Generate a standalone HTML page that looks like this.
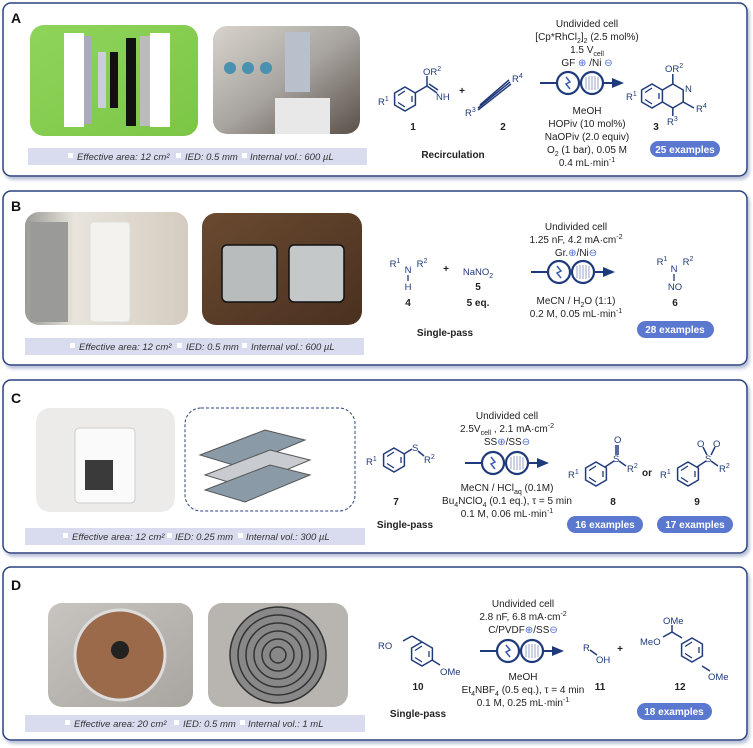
<!DOCTYPE html>
<html><head><meta charset="utf-8"><style>
html,body{margin:0;padding:0;background:#fff;}
svg{display:block;font-family:"Liberation Sans",Arial,sans-serif;}
.t{font-size:10px;fill:#222;text-anchor:middle;}
.b{font-size:10px;font-weight:bold;fill:#222;text-anchor:middle;}
.m{font-size:9.5px;fill:#1f3a7a;}
.cap{font-size:9.5px;font-style:italic;fill:#333;}
.badge{font-size:10px;font-weight:bold;fill:#fff;text-anchor:middle;}
.lab{font-size:14px;font-weight:bold;fill:#111;}
</style></head><body>
<svg width="753" height="748" viewBox="0 0 753 748" xmlns="http://www.w3.org/2000/svg">
<defs>
<g id="bz"><polygon points="0,-12 10.4,-6 10.4,6 0,12 -10.4,6 -10.4,-6" fill="none" stroke="#1f3a7a" stroke-width="1.5"/><line x1="-7" y1="-3.5" x2="0" y2="-8" stroke="#1f3a7a" stroke-width="1.3"/><line x1="7" y1="-3" x2="7" y2="3" stroke="#1f3a7a" stroke-width="1.3"/><line x1="0" y1="8" x2="-7" y2="3.5" stroke="#1f3a7a" stroke-width="1.3"/></g>
<g id="cell"><line x1="-40" y1="0" x2="-24" y2="0" stroke="#1f3a7a" stroke-width="2"/><circle cx="-12" cy="0" r="11" fill="#fff" stroke="#1f3a7a" stroke-width="2.2"/><path d="M-14,-6 L-10,-1 L-14,1 L-10,6" stroke="#3a5ab0" fill="none" stroke-width="1.5"/><circle cx="12" cy="0" r="11" fill="#fff" stroke="#1f3a7a" stroke-width="2.2"/><g stroke="#9aa6c8" stroke-width="1"><line x1="6" y1="-6" x2="6" y2="6"/><line x1="9" y1="-7" x2="9" y2="7"/><line x1="12" y1="-7" x2="12" y2="7"/><line x1="15" y1="-7" x2="15" y2="7"/><line x1="18" y1="-6" x2="18" y2="6"/></g><line x1="23" y1="0" x2="34" y2="0" stroke="#1f3a7a" stroke-width="2"/><polygon points="32,-5 44,0 32,5" fill="#1f3a7a"/></g>
<filter id="sh"><feDropShadow dx="2" dy="3" stdDeviation="1.5" flood-color="#b8c0d8"/></filter>
<linearGradient id="gA" x1="0" y1="0" x2="1" y2="1"><stop offset="0" stop-color="#8fd45a"/><stop offset="1" stop-color="#7cc646"/></linearGradient>
<linearGradient id="gA2" x1="0" y1="0" x2="1" y2="1"><stop offset="0" stop-color="#d8d4cc"/><stop offset="0.5" stop-color="#a8a4a0"/><stop offset="1" stop-color="#5a5048"/></linearGradient>
<linearGradient id="gB1" x1="0" y1="0" x2="1" y2="0"><stop offset="0" stop-color="#9a9a96"/><stop offset="0.3" stop-color="#e8e4dc"/><stop offset="1" stop-color="#d4ccc0"/></linearGradient>
<linearGradient id="gB2" x1="0" y1="0" x2="1" y2="1"><stop offset="0" stop-color="#6a4a30"/><stop offset="1" stop-color="#4a3020"/></linearGradient>
<linearGradient id="gD1" x1="0" y1="0" x2="1" y2="1"><stop offset="0" stop-color="#c8c4c0"/><stop offset="1" stop-color="#a8a4a0"/></linearGradient>
</defs>

<g fill="#fff" stroke="#2b3f7f" stroke-width="1.5" filter="url(#sh)">
<rect x="3" y="3" width="744" height="173" rx="8"/>
<rect x="3" y="191" width="744" height="174" rx="8"/>
<rect x="3" y="380" width="744" height="173" rx="8"/>
<rect x="3" y="567" width="744" height="173" rx="8"/>
</g>
<text x="11" y="23" class="lab">A</text>
<text x="11" y="211" class="lab">B</text>
<text x="11" y="403" class="lab">C</text>
<text x="11" y="590" class="lab">D</text>

<rect x="30" y="25" width="168" height="111" rx="14" fill="url(#gA)"/>
<rect x="64" y="33" width="20" height="94" fill="#fff"/><rect x="84" y="36" width="8" height="88" fill="#aab"/>
<rect x="98" y="52" width="8" height="56" fill="#ccd"/><rect x="110" y="52" width="8" height="56" fill="#111"/>
<rect x="126" y="38" width="10" height="88" fill="#111"/><rect x="140" y="36" width="10" height="90" fill="#bbb"/><rect x="150" y="33" width="20" height="94" fill="#fff"/>
<rect x="213" y="26" width="147" height="108" rx="14" fill="url(#gA2)"/>
<rect x="285" y="32" width="25" height="60" fill="#b8c0cc"/><rect x="275" y="98" width="55" height="36" fill="#e8e8e8"/>
<circle cx="230" cy="68" r="6" fill="#4a90b0"/><circle cx="248" cy="68" r="6" fill="#4a90b0"/><circle cx="266" cy="68" r="6" fill="#4a90b0"/>
<rect x="28" y="148" width="339" height="17" fill="#d9dcef"/>
<g class="cap"><rect x="68" y="153" width="5" height="5" fill="#fff"/><text x="77" y="160">Effective area: 12 cm²</text><rect x="176" y="153" width="5" height="5" fill="#fff"/><text x="185" y="160">IED: 0.5 mm</text><rect x="242" y="153" width="5" height="5" fill="#fff"/><text x="250" y="160">Internal vol.: 600 µL</text></g>

<g class="t">
<text x="587" y="27">Undivided cell</text>
<text x="587" y="40">[Cp*RhCl<tspan font-size="7" dy="3">2</tspan><tspan dy="-3">]</tspan><tspan font-size="7" dy="3">2</tspan><tspan dy="-3"> (2.5 mol%)</tspan></text>
<text x="587" y="53">1.5 V<tspan font-size="7" dy="3">cell</tspan></text>
<text x="587" y="66">GF <tspan fill="#4a6ad0">⊕</tspan> /Ni <tspan fill="#4a6ad0">⊖</tspan></text>
<text x="587" y="114">MeOH</text>
<text x="587" y="127">HOPiv (10 mol%)</text>
<text x="587" y="140">NaOPiv (2.0 equiv)</text>
<text x="587" y="153">O<tspan font-size="7" dy="3">2</tspan><tspan dy="-3"> (1 bar), 0.05 M</tspan></text>
<text x="587" y="166">0.4 mL·min<tspan font-size="7" dy="-4">-1</tspan></text>
</g>
<use href="#cell" x="580" y="83"/>
<use href="#bz" x="405" y="99"/>
<g stroke="#1f3a7a" stroke-width="1.5" fill="none"><line x1="415" y1="93" x2="427" y2="86"/><line x1="427" y1="86" x2="427" y2="76"/><line x1="427" y1="86" x2="437" y2="93"/><line x1="429" y1="84" x2="438" y2="90"/>
<line x1="478" y1="108" x2="510" y2="82"/><line x1="480" y1="105" x2="509" y2="80"/><line x1="478" y1="110" x2="511" y2="84"/></g>
<g class="m"><text x="378" y="105">R<tspan font-size="7" dy="-4">1</tspan></text><text x="423" y="75">OR<tspan font-size="7" dy="-4">2</tspan></text><text x="436" y="100">NH</text><text x="465" y="116">R<tspan font-size="7" dy="-4">3</tspan></text><text x="512" y="82">R<tspan font-size="7" dy="-4">4</tspan></text></g>
<text x="462" y="94" class="b" font-size="9">+</text>
<text x="413" y="130" class="b" font-size="9">1</text><text x="503" y="130" class="b" font-size="9">2</text><text x="656" y="130" class="b" font-size="9">3</text>
<text x="453" y="158" class="b">Recirculation</text>
<use href="#bz" x="652" y="96"/>
<g stroke="#1f3a7a" stroke-width="1.5" fill="none"><polyline points="662.4,90 672.8,84 683.2,90 683.2,102 672.8,108 662.4,102"/><line x1="672.8" y1="84" x2="672.8" y2="74"/><line x1="683.2" y1="102" x2="694" y2="108"/><line x1="672.8" y1="108" x2="672.8" y2="116"/></g>
<g class="m"><text x="665" y="72">OR<tspan font-size="7" dy="-4">2</tspan></text><text x="685" y="92">N</text><text x="696" y="112">R<tspan font-size="7" dy="-4">4</tspan></text><text x="667" y="125">R<tspan font-size="7" dy="-4">3</tspan></text><text x="626" y="100">R<tspan font-size="7" dy="-4">1</tspan></text></g>
<rect x="650" y="141" width="70" height="16" rx="8" fill="#5b78d0"/><text x="685" y="153" class="badge">25 examples</text>

<rect x="25" y="212" width="163" height="113" rx="14" fill="url(#gB1)"/>
<rect x="30" y="222" width="38" height="100" fill="#9a9a98"/>
<rect x="90" y="222" width="40" height="100" rx="4" fill="#f4f2ee" stroke="#ddd"/>
<rect x="202" y="213" width="160" height="112" rx="14" fill="url(#gB2)"/>
<rect x="222" y="245" width="55" height="57" rx="5" fill="#b8bcbc" stroke="#111" stroke-width="1.5"/>
<rect x="289" y="245" width="55" height="57" rx="5" fill="#c4c8c8" stroke="#111" stroke-width="1.5"/>
<rect x="25" y="338" width="339" height="17" fill="#d9dcef"/>
<g class="cap"><rect x="70" y="343" width="5" height="5" fill="#fff"/><text x="79" y="350">Effective area: 12 cm²</text><rect x="177" y="343" width="5" height="5" fill="#fff"/><text x="186" y="350">IED: 0.5 mm</text><rect x="242" y="343" width="5" height="5" fill="#fff"/><text x="251" y="350">Internal vol.: 600 µL</text></g>

<g class="t">
<text x="576" y="230">Undivided cell</text>
<text x="576" y="243">1.25 nF, 4.2 mA·cm<tspan font-size="7" dy="-4">-2</tspan></text>
<text x="576" y="256">Gr.<tspan fill="#4a6ad0">⊕</tspan>/Ni<tspan fill="#4a6ad0">⊖</tspan></text>
<text x="576" y="304">MeCN / H<tspan font-size="7" dy="3">2</tspan><tspan dy="-3">O (1:1)</tspan></text>
<text x="576" y="317">0.2 M, 0.05 mL·min<tspan font-size="7" dy="-4">-1</tspan></text>
</g>
<use href="#cell" x="571" y="272"/>
<g class="m" text-anchor="middle"><text x="395" y="267">R<tspan font-size="7" dy="-4">1</tspan></text><text x="408" y="273">N</text><text x="422" y="267">R<tspan font-size="7" dy="-4">2</tspan></text><text x="408" y="290">H</text>
<text x="478" y="275">NaNO<tspan font-size="7" dy="3">2</tspan></text>
<text x="662" y="265">R<tspan font-size="7" dy="-4">1</tspan></text><text x="674" y="272">N</text><text x="688" y="265">R<tspan font-size="7" dy="-4">2</tspan></text><text x="675" y="290">NO</text></g>
<g stroke="#1f3a7a" stroke-width="1.3"><line x1="408" y1="275" x2="408" y2="281"/><line x1="674" y1="274" x2="674" y2="281"/></g>
<text x="446" y="272" class="b" font-size="9">+</text>
<text x="478" y="290" class="b" font-size="9">5</text><text x="408" y="306" class="b" font-size="9">4</text><text x="478" y="306" class="b">5 eq.</text>
<text x="675" y="306" class="b" font-size="9">6</text>
<text x="445" y="336" class="b">Single-pass</text>
<rect x="637" y="321" width="77" height="17" rx="8.5" fill="#5b78d0"/><text x="675" y="333" class="badge">28 examples</text>

<rect x="36" y="408" width="139" height="104" rx="14" fill="#ecebea"/>
<rect x="75" y="428" width="60" height="75" rx="4" fill="#fafafa" stroke="#ccc"/>
<rect x="85" y="460" width="28" height="30" fill="#3a3a3a"/>
<rect x="185" y="408" width="170" height="103" rx="16" fill="none" stroke="#2b3f7f" stroke-dasharray="3,2"/>
<polygon points="200,455 265,430 305,440 240,467" fill="#8a9aa6" stroke="#555"/>
<polygon points="205,475 270,450 310,460 245,487" fill="#c8ccd0" stroke="#555"/>
<polygon points="205,490 270,465 310,475 245,502" fill="#8a9aa6" stroke="#555"/>
<rect x="25" y="528" width="340" height="17" fill="#d9dcef"/>
<g class="cap"><rect x="63" y="533" width="5" height="5" fill="#fff"/><text x="72" y="540">Effective area: 12 cm²</text><rect x="167" y="533" width="5" height="5" fill="#fff"/><text x="175" y="540">IED: 0.25 mm</text><rect x="238" y="533" width="5" height="5" fill="#fff"/><text x="246" y="540">Internal vol.: 300 µL</text></g>

<g class="t">
<text x="507" y="419">Undivided cell</text>
<text x="507" y="432">2.5V<tspan font-size="7" dy="3">cell</tspan><tspan dy="-3"> , 2.1 mA·cm</tspan><tspan font-size="7" dy="-4">-2</tspan></text>
<text x="507" y="445">SS<tspan fill="#4a6ad0">⊕</tspan>/SS<tspan fill="#4a6ad0">⊖</tspan></text>
<text x="507" y="491">MeCN / HCl<tspan font-size="7" dy="3">aq</tspan><tspan dy="-3"> (0.1M)</tspan></text>
<text x="507" y="504">Bu<tspan font-size="7" dy="3">4</tspan><tspan dy="-3">NClO</tspan><tspan font-size="7" dy="3">4</tspan><tspan dy="-3"> (0.1 eq.), τ = 5 min</tspan></text>
<text x="507" y="517">0.1 M, 0.06 mL·min<tspan font-size="7" dy="-4">-1</tspan></text>
</g>
<use href="#cell" x="505" y="463"/>
<use href="#bz" x="394" y="460"/>
<g stroke="#1f3a7a" stroke-width="1.5" fill="none"><line x1="404" y1="454" x2="412" y2="449"/><line x1="418" y1="451" x2="424" y2="456"/>
<line x1="605" y1="467" x2="614" y2="461"/><line x1="619" y1="461" x2="626" y2="466"/><line x1="616" y1="455" x2="616" y2="445"/><line x1="618" y1="455" x2="618" y2="445"/>
<line x1="697" y1="467" x2="706" y2="461"/><line x1="711" y1="461" x2="718" y2="466"/><line x1="707" y1="455" x2="703" y2="447"/><line x1="711" y1="455" x2="715" y2="447"/></g>
<use href="#bz" x="596" y="474"/><use href="#bz" x="688" y="474"/>
<g class="m"><text x="412" y="451">S</text><text x="424" y="463">R<tspan font-size="7" dy="-4">2</tspan></text><text x="366" y="465">R<tspan font-size="7" dy="-4">1</tspan></text>
<text x="613" y="462">S</text><text x="614" y="443">O</text><text x="627" y="472">R<tspan font-size="7" dy="-4">2</tspan></text><text x="568" y="478">R<tspan font-size="7" dy="-4">1</tspan></text>
<text x="705" y="462">S</text><text x="697" y="447">O</text><text x="713" y="447">O</text><text x="719" y="472">R<tspan font-size="7" dy="-4">2</tspan></text><text x="660" y="478">R<tspan font-size="7" dy="-4">1</tspan></text></g>
<text x="647" y="476" class="b" fill="#1f3a7a">or</text>
<text x="396" y="505" class="b" font-size="9">7</text><text x="613" y="505" class="b" font-size="9">8</text><text x="697" y="505" class="b" font-size="9">9</text>
<text x="405" y="528" class="b">Single-pass</text>
<rect x="567" y="516" width="76" height="17" rx="8.5" fill="#5b78d0"/><text x="605" y="528" class="badge">16 examples</text>
<rect x="657" y="516" width="76" height="17" rx="8.5" fill="#5b78d0"/><text x="695" y="528" class="badge">17 examples</text>

<rect x="48" y="603" width="145" height="104" rx="14" fill="url(#gD1)"/>
<circle cx="120" cy="655" r="45" fill="#9a6a4a" stroke="#ddd" stroke-width="3"/>
<circle cx="120" cy="650" r="9" fill="#222"/>
<rect x="208" y="603" width="140" height="104" rx="14" fill="#b8b4b0"/>
<g fill="none" stroke="#333" stroke-width="1.5"><circle cx="278" cy="655" r="48" fill="#888"/><circle cx="278" cy="655" r="40"/><circle cx="278" cy="655" r="32"/><circle cx="278" cy="655" r="24"/><circle cx="278" cy="655" r="16"/><circle cx="278" cy="655" r="8"/></g>
<rect x="25" y="715" width="340" height="17" fill="#d9dcef"/>
<g class="cap"><rect x="65" y="720" width="5" height="5" fill="#fff"/><text x="74" y="727">Effective area: 20 cm²</text><rect x="174" y="720" width="5" height="5" fill="#fff"/><text x="183" y="727">IED: 0.5 mm</text><rect x="240" y="720" width="5" height="5" fill="#fff"/><text x="248" y="727">Internal vol.: 1 mL</text></g>

<g class="t">
<text x="523" y="607">Undivided cell</text>
<text x="523" y="620">2.8 nF, 6.8 mA·cm<tspan font-size="7" dy="-4">-2</tspan></text>
<text x="523" y="633">C/PVDF<tspan fill="#4a6ad0">⊕</tspan>/SS<tspan fill="#4a6ad0">⊖</tspan></text>
<text x="523" y="680">MeOH</text>
<text x="523" y="693">Et<tspan font-size="7" dy="3">4</tspan><tspan dy="-3">NBF</tspan><tspan font-size="7" dy="3">4</tspan><tspan dy="-3"> (0.5 eq.), τ = 4 min</tspan></text>
<text x="523" y="706">0.1 M, 0.25 mL·min<tspan font-size="7" dy="-4">-1</tspan></text>
</g>
<use href="#cell" x="520" y="651"/>
<use href="#bz" x="422" y="654"/>
<g stroke="#1f3a7a" stroke-width="1.5" fill="none"><line x1="422" y1="642" x2="412" y2="636"/><line x1="412" y1="636" x2="403" y2="641"/><line x1="432" y1="660" x2="440" y2="665"/>
<line x1="590" y1="650" x2="597" y2="655"/>
<line x1="672" y1="632" x2="672" y2="625"/><line x1="672" y1="632" x2="663" y2="637"/><line x1="672" y1="632" x2="682" y2="638"/><line x1="702" y1="666" x2="710" y2="671"/></g>
<use href="#bz" x="692" y="650"/>
<g class="m"><text x="378" y="649">RO</text><text x="440" y="675">OMe</text><text x="583" y="651">R</text><text x="596" y="663">OH</text><text x="663" y="624">OMe</text><text x="640" y="645">MeO</text><text x="708" y="680">OMe</text></g>
<text x="620" y="652" class="b" font-size="9">+</text>
<text x="418" y="690" class="b" font-size="9">10</text><text x="600" y="690" class="b" font-size="9">11</text><text x="680" y="690" class="b" font-size="9">12</text>
<text x="418" y="717" class="b">Single-pass</text>
<rect x="637" y="703" width="75" height="17" rx="8.5" fill="#5b78d0"/><text x="674" y="715" class="badge">18 examples</text>
</svg>
</body></html>
